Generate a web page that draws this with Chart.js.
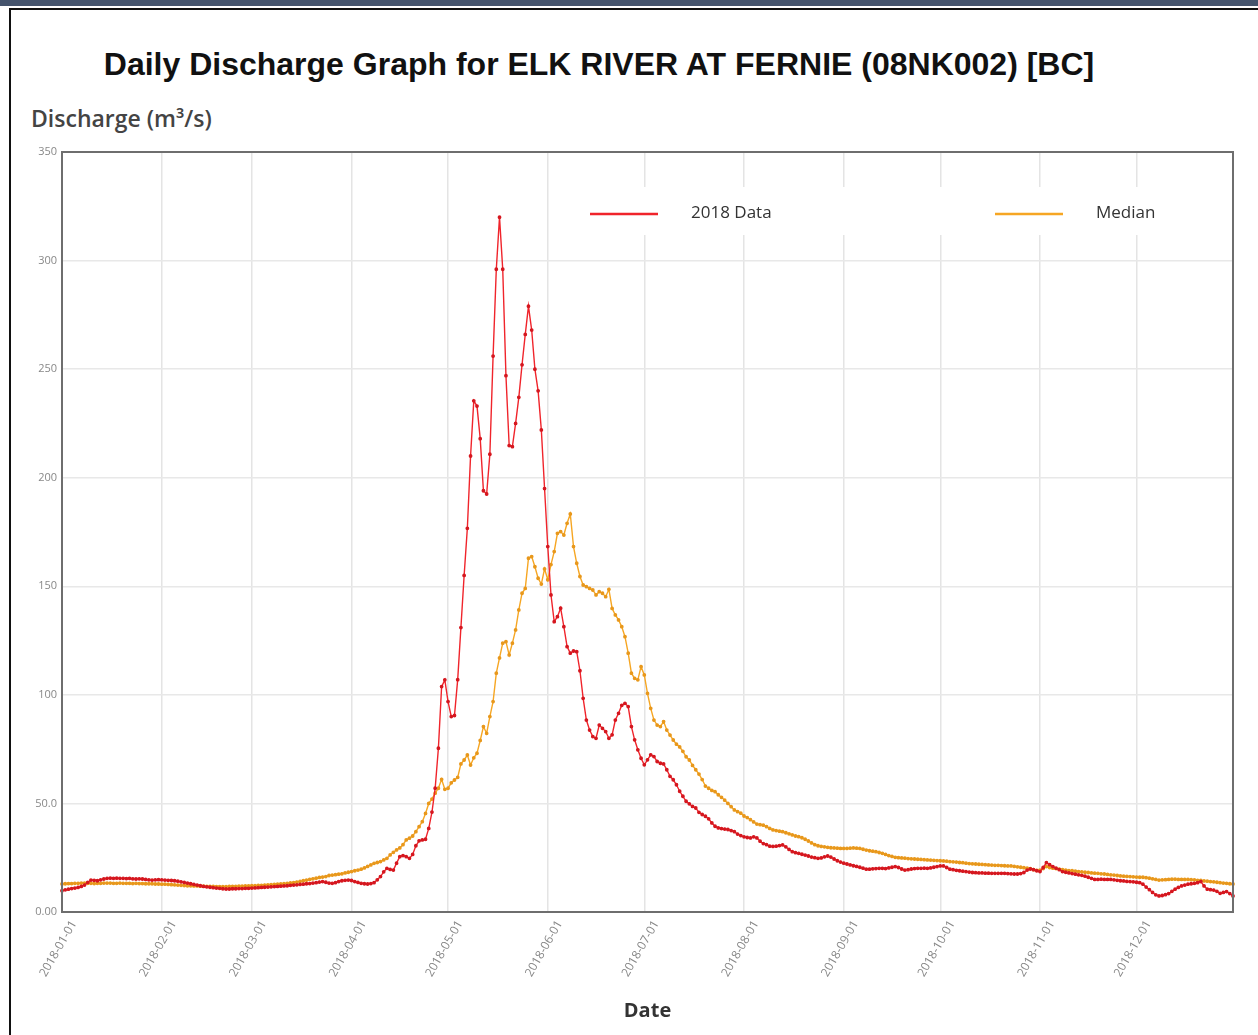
<!DOCTYPE html>
<html>
<head>
<meta charset="utf-8">
<title>Daily Discharge Graph - ELK RIVER AT FERNIE</title>
<script src="https://cdn.jsdelivr.net/npm/chart.js@4.4.1/dist/chart.umd.min.js"></script>
<style>
    body { margin: 0; background: #fff; width: 1258px; height: 1035px; overflow: hidden; position: relative; }
    .topbar { position: absolute; left: 0; top: 0; width: 1258px; height: 6px; background: #45546d; }
    .frame { position: absolute; left: 9px; top: 8px; width: 1260px; height: 1040px; border-top: 2px solid #111; border-left: 2px solid #111; }
    .title { position: absolute; left: 0; top: 46px; width: 1198px; margin: 0; text-align: center;
             font-family: "Liberation Sans", Arial, sans-serif; font-weight: bold; font-size: 32px; color: #111; }
    .ylabel { position: absolute; left: 31px; top: 102px; margin: 0;
              font-family: "Open Sans", sans-serif; font-weight: 600; font-size: 23px; color: #444; }
    #chart { position: absolute; left: 0; top: 0; }
</style>
</head>
<body>
<div class="topbar"></div>
<div class="frame"></div>
<h1 class="title">Daily Discharge Graph for ELK RIVER AT FERNIE (08NK002) [BC]</h1>
<div class="ylabel">Discharge (m³/s)</div>
<canvas id="chart" width="1258" height="1035"></canvas>

<script>
// daily values, one line per month (m3/s)
const flow2018 = [
    9.8, 10.2, 10.5, 10.8, 11, 11.3, 11.8, 12.4, 13.6, 14.7, 14.6, 14.4, 14.8, 15.2, 15.5, 15.6, 15.5, 15.6, 15.5, 15.5, 15.4, 15.5, 15.3, 15.2, 15.3, 15.2, 15, 14.8, 14.7, 14.8, 14.9,
    14.8, 14.7, 14.6, 14.5, 14.4, 14.2, 13.9, 13.6, 13.3, 13, 12.7, 12.4, 12.1, 11.8, 11.6, 11.4, 11.2, 11, 10.9, 10.7, 10.6, 10.6, 10.7, 10.7, 10.8, 10.8, 10.9, 10.9,
    11, 11.1, 11.2, 11.3, 11.4, 11.5, 11.6, 11.7, 11.8, 11.9, 12, 12.1, 12.3, 12.4, 12.5, 12.7, 12.8, 13, 13.1, 13.3, 13.5, 13.8, 14, 13.7, 13.3, 13.2, 13.5, 14, 14.4, 14.6, 14.7,
    14.5, 14, 13.6, 13.2, 13, 12.9, 13.1, 13.5, 14.8, 16.3, 18.5, 20.1, 19.6, 19.3, 22.5, 25.5, 26, 25.5, 24.7, 26.5, 30.5, 32.8, 33.2, 33.5, 38.5, 46, 57, 75.4, 103.8, 106.9,
    96.9, 90, 90.5, 107, 131, 155, 176.7, 210, 235.4, 233, 218, 194, 192.5, 210.8, 256, 296, 320, 296, 247, 214.8, 214.3, 225, 237, 252, 266, 279, 268, 250, 240, 222, 195,
    168.3, 146, 133.7, 136, 139.9, 131.4, 122.2, 119.2, 120.2, 119.9, 111.1, 98.4, 88.4, 83.8, 80.8, 80, 86.1, 84.6, 83.1, 80, 81.6, 88.4, 91.5, 95.2, 96.1, 94.6, 85.4, 79.3, 74.7, 70.8,
    67.8, 70.1, 72.4, 71.6, 69.3, 68.5, 68.2, 65.5, 62.5, 60.9, 58.6, 55.6, 53.3, 51, 49.8, 48.6, 47.9, 45.9, 44.9, 44.1, 42.9, 41, 39.5, 38.7, 38.4, 38.2, 38, 37.5, 37, 35.9, 35.2,
    34.6, 34.3, 34.1, 34.6, 34.1, 32.6, 31.5, 31, 30.3, 30.2, 30.3, 30.6, 30.9, 30, 28.8, 27.8, 27.3, 27, 26.6, 26.2, 25.8, 25.3, 25, 24.7, 24.9, 25.4, 25.8, 25.3, 24.4, 23.6, 23,
    22.5, 22.1, 21.7, 21.3, 21, 20.6, 20.2, 19.7, 19.7, 19.9, 20, 20.1, 20.1, 20, 20.3, 20.6, 20.9, 20.5, 19.8, 19.3, 19.5, 19.8, 20, 20.1, 20.1, 20.2, 20.1, 20.3, 20.6, 20.9,
    21.2, 21.2, 20.5, 19.7, 19.5, 19.2, 19, 18.8, 18.6, 18.4, 18.2, 18.1, 18, 18, 17.9, 17.9, 17.8, 17.8, 17.8, 17.8, 17.8, 17.7, 17.6, 17.5, 17.5, 17.7, 18.2, 19.3, 19.8, 19.5, 19,
    18.6, 20.5, 22.7, 21.8, 20.9, 20.2, 19.5, 18.6, 18.3, 18, 17.7, 17.4, 17.1, 16.9, 16.5, 16, 15.5, 15, 15, 15.1, 15, 15, 15, 14.8, 14.6, 14.4, 14.3, 14.1, 14, 13.9,
    13.7, 13.5, 12.8, 11.5, 10.3, 9, 7.9, 7.4, 7.6, 8, 8.5, 9.5, 10.5, 11.3, 12, 12.4, 12.8, 13, 13.2, 13.5, 14, 12, 10.5, 10.3, 10.1, 9.5, 8.6, 9, 9.4, 8.5, 7.4
];

const medianFlow = [
    12.9, 13, 13.1, 13.1, 13.2, 13.2, 13.3, 13.3, 13.2, 13.2, 13.1, 13.2, 13.2, 13.3, 13.3, 13.3, 13.2, 13.2, 13.3, 13.2, 13.2, 13.2, 13.1, 13.2, 13.1, 13.1, 13, 13, 13, 12.9, 12.9,
    12.8, 12.8, 12.7, 12.6, 12.5, 12.4, 12.3, 12.2, 12.1, 12.1, 12, 12, 11.9, 11.9, 11.8, 11.8, 11.8, 11.7, 11.7, 11.7, 11.7, 11.8, 11.8, 11.8, 11.9, 11.9, 12, 12,
    12.1, 12.1, 12.2, 12.3, 12.4, 12.5, 12.6, 12.7, 12.8, 12.9, 13, 13.2, 13.4, 13.5, 13.8, 14.1, 14.4, 14.7, 15, 15.3, 15.6, 15.9, 16.1, 16.3, 16.8, 17, 17.2, 17.4, 17.6, 18, 18.3,
    18.6, 19, 19.3, 19.7, 20.3, 21, 21.7, 22.4, 22.8, 23.2, 24, 24.7, 26.3, 27.5, 28.6, 29.5, 31, 33.2, 34, 35, 37, 39.3, 41.6, 45.4, 50, 52, 54.7, 57, 61.1, 56.5,
    57, 59.5, 60.8, 62, 68.2, 70, 72.3, 67.7, 71, 73.1, 79, 85.4, 82.3, 90, 96.9, 110, 117, 123.8, 124.5, 118.4, 123.8, 129.9, 139.1, 146.8, 149, 162.9, 163.7, 159, 153.7, 151, 158,
    153, 160, 166, 174.4, 175.2, 173.6, 179, 183.3, 168.3, 160.6, 154.5, 150.6, 149.8, 149, 148.3, 146, 147.5, 146.8, 145.2, 148.6, 139.8, 136.8, 134.5, 131.4, 126.8, 119.2, 110, 107.6, 106.9, 113,
    109.2, 100.7, 93.8, 88.4, 86.1, 85.4, 87.7, 83.8, 81.5, 79.2, 77.3, 76, 74, 71.5, 70, 67.5, 65.5, 63.5, 61, 58, 57, 56, 55.4, 54, 52.8, 51.5, 50, 48.5, 47, 46.2, 45.5,
    44.2, 43.5, 42.5, 41.5, 40.5, 40.2, 40, 39.3, 38.5, 37.8, 37.5, 37.2, 37, 36.5, 36, 35.5, 35, 34.7, 34.2, 33.5, 32.7, 31.8, 31, 30.5, 30.2, 30, 29.8, 29.6, 29.5, 29.4, 29.3,
    29.3, 29.3, 29.4, 29.5, 29.4, 29.3, 28.9, 28.5, 28.2, 28, 27.8, 27.4, 27, 26.5, 26, 25.6, 25.2, 25, 24.9, 24.8, 24.6, 24.5, 24.4, 24.3, 24.2, 24.1, 24, 23.9, 23.8, 23.7,
    23.6, 23.5, 23.4, 23.2, 23.1, 23, 22.8, 22.7, 22.5, 22.3, 22.2, 22.1, 22, 21.9, 21.8, 21.7, 21.6, 21.5, 21.5, 21.4, 21.3, 21.2, 21.2, 21, 20.8, 20.6, 20.4, 20.2, 20, 19.5, 19.2,
    19.3, 20, 20.9, 20.5, 20.2, 20, 19.7, 19.5, 19.3, 19.1, 19, 18.8, 18.6, 18.5, 18.3, 18.2, 18, 17.9, 17.8, 17.6, 17.5, 17.3, 17.1, 17, 16.8, 16.6, 16.5, 16.4, 16.3, 16.2,
    16.1, 16, 16, 15.8, 15.6, 15.3, 15, 14.7, 14.8, 14.9, 15, 15.1, 15.1, 15, 15, 15, 15, 14.9, 14.8, 14.6, 14.5, 14.3, 14.2, 14, 13.9, 13.7, 13.5, 13.3, 13.2, 13, 12.9
];

// one label per day of 2018
const dates = [];
for (let i = 0; i < flow2018.length; i++) {
    dates.push(new Date(Date.UTC(2018, 0, 1 + i)).toISOString().slice(0, 10));
}

const yTicks = [0, 50, 100, 150, 200, 250, 300, 350];
const seriesNames = ['2018 Data', 'Median'];

const FONT = '"Open Sans", sans-serif';

// legend sits inside the plot, on a white strip over the grid
const inlineLegend = {
    id: 'inlineLegend',
    beforeDatasetsDraw(chart) {
        const ctx = chart.ctx;
        const area = chart.chartArea;
        const top = area.top + 35;
        ctx.save();
        ctx.fillStyle = '#fff';
        ctx.fillRect(area.left + 508, top, 640, 48);
        const slots = [area.left + 528, area.left + 933];
        chart.data.datasets.forEach((ds, i) => {
            const x = slots[i];
            const y = top + 27;
            ctx.strokeStyle = ds.borderColor;
            ctx.lineWidth = 2.5;
            ctx.beginPath();
            ctx.moveTo(x, y);
            ctx.lineTo(x + 68, y);
            ctx.stroke();
            ctx.fillStyle = '#333';
            ctx.font = '17px ' + FONT;
            ctx.textBaseline = 'middle';
            ctx.fillText(ds.label, x + 101, y - 1);
        });
        ctx.restore();
    },
    afterDatasetsDraw(chart) {
        // grey frame round the plot
        const ctx = chart.ctx;
        const a = chart.chartArea;
        ctx.save();
        ctx.strokeStyle = '#6e6e6e';
        ctx.lineWidth = 2;
        ctx.strokeRect(a.left, a.top, a.right - a.left, a.bottom - a.top);
        ctx.restore();
    }
};

new Chart(document.getElementById('chart'), {
    type: 'line',
    data: {
        labels: dates,
        datasets: [{
            label: seriesNames[0],
            data: flow2018,
            borderColor: '#f0242b',
            backgroundColor: '#d5171f',
            pointBackgroundColor: '#d5171f',
            pointBorderColor: '#d5171f',
            borderWidth: 1.4,
            pointRadius: 1.2,
            tension: 0
        }, {
            label: seriesNames[1],
            data: medianFlow,
            borderColor: '#f6a623',
            backgroundColor: '#e8981c',
            pointBackgroundColor: '#e8981c',
            pointBorderColor: '#e8981c',
            borderWidth: 1.4,
            pointRadius: 1.2,
            tension: 0
        }]
    },
    options: {
        responsive: false,
        animation: false,
        devicePixelRatio: 1,
        layout: { padding: { top: 152, right: 25, left: 0, bottom: 0 } },
        plugins: {
            legend: { display: false },
            tooltip: { enabled: false }
        },
        scales: {
            x: {
                border: { display: false },
                grid: { color: '#e4e4e4', lineWidth: 1.5, drawTicks: false },
                ticks: {
                    autoSkip: false,
                    maxRotation: 60,
                    minRotation: 60,
                    padding: 6,
                    labelOffset: 12,
                    color: '#888',
                    font: { family: FONT, size: 12 },
                    // only month starts get a label and a grid line
                    callback: function (value) {
                        const label = this.getLabelForValue(value);
                        return label.endsWith('-01') ? label : null;
                    }
                },
                title: {
                    display: true,
                    text: 'Date',
                    color: '#333',
                    font: { family: FONT, size: 20, weight: 'bold' },
                    padding: { top: 0, bottom: 12 }
                },
                afterFit: (scale) => { scale.height = 123; }
            },
            y: {
                min: 0,
                max: 350,
                border: { display: false },
                grid: { color: '#e8e8e8', lineWidth: 1.5, drawTicks: false },
                afterBuildTicks: (scale) => { scale.ticks = yTicks.map(v => ({ value: v })); },
                ticks: {
                    padding: 5,
                    color: '#888',
                    font: { family: FONT, size: 11 },
                    callback: (v) => Number(v).toPrecision(3)
                },
                afterFit: (scale) => { scale.width = 62; }
            }
        }
    },
    plugins: [inlineLegend]
});
</script>
</body>
</html>
